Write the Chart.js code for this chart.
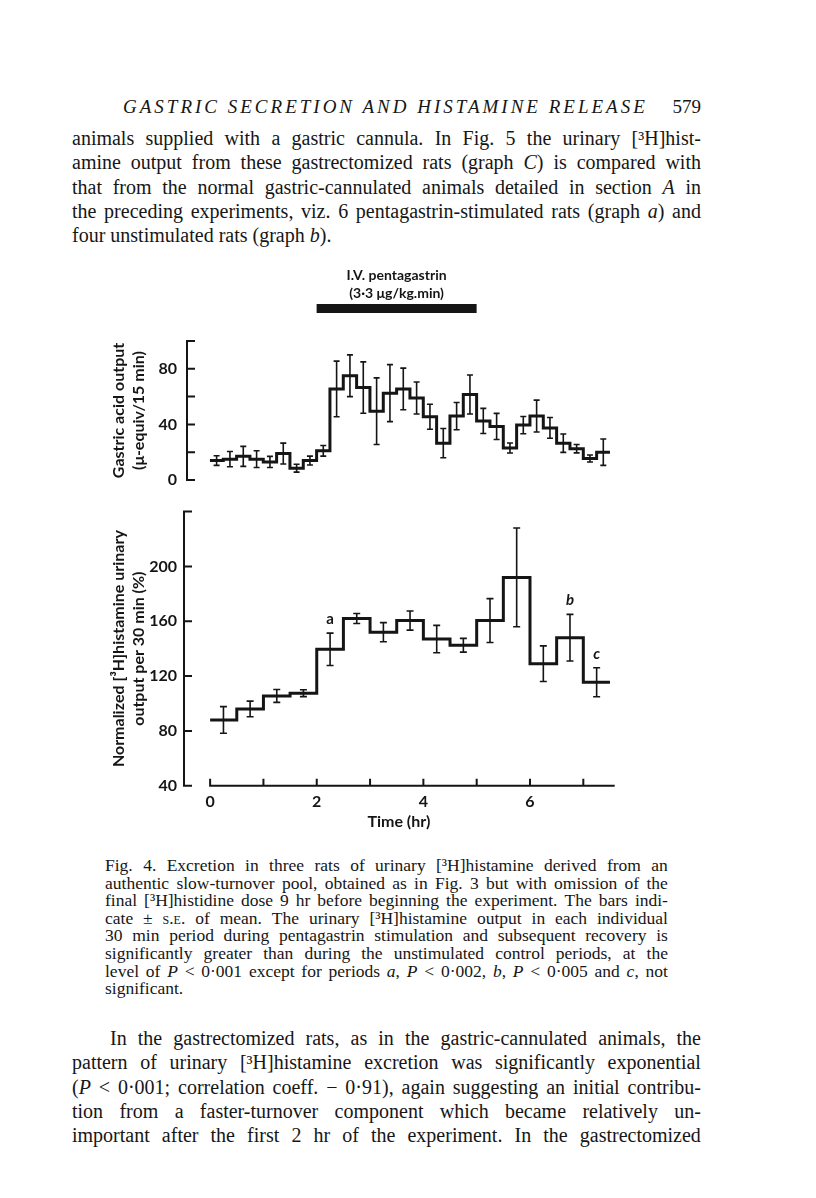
<!DOCTYPE html>
<html lang="en">
  <head>
    <meta charset="UTF-8" />
    <title>Gastric secretion and histamine release - Fig. 4</title>
    <script src="https://cdn.jsdelivr.net/npm/chart.js@4.4.1/dist/chart.umd.min.js"></script>
    <style>
      body {
        margin: 0;
        width: 816px;
        height: 1198px;
        position: relative;
        overflow: hidden;
        background: #fff;
        color: #161616;
        font-family: "Liberation Serif", "Times New Roman", serif;
      }
      .block { position: absolute; }
      .ln { display: flex; justify-content: space-between; white-space: nowrap; }
      .ln.plain { display: block; }
      b { font-weight: normal; font-variant: small-caps; }
      #head { left: 123px; width: 578px; top: 95px; font-size: 19px; line-height: 24px; }
      #head .title { font-style: italic; letter-spacing: 3px; }
      #intro { left: 72px; width: 629px; top: 126px; font-size: 20px; line-height: 24.3px; }
      #caption { left: 105px; width: 563px; top: 857px; font-size: 17.5px; line-height: 17.6px; }
      #outro { left: 72px; width: 629px; top: 1026px; font-size: 20px; line-height: 24.3px; }
      #outro .indent { margin-left: 38px; }
      canvas { position: absolute; left: 100px; }
      #acidChart { top: 255px; }
      #histChart { top: 495px; }
    </style>
  </head>
  <body>
    <div class="block" id="head">
      <div class="ln"><span class="title">GASTRIC SECRETION AND HISTAMINE RELEASE</span><span>579</span></div>
    </div>

    <div class="block" id="intro">
      <div class="ln j">animals supplied with a gastric cannula. In Fig. 5 the urinary [³H]hist-</div>
      <div class="ln j">amine output from these gastrectomized rats (graph <i>C</i>) is compared with</div>
      <div class="ln j">that from the normal gastric-cannulated animals detailed in section <i>A</i> in</div>
      <div class="ln j">the preceding experiments, viz. 6 pentagastrin-stimulated rats (graph <i>a</i>) and</div>
      <div class="ln plain">four unstimulated rats (graph <i>b</i>).</div>
    </div>

    <canvas id="acidChart" width="530" height="245"></canvas>
    <canvas id="histChart" width="530" height="345"></canvas>

    <div class="block" id="caption">
      <div class="ln j">Fig. 4. Excretion in three rats of urinary [³H]histamine derived from an</div>
      <div class="ln j">authentic slow-turnover pool, obtained as in Fig. 3 but with omission of the</div>
      <div class="ln j">final [³H]histidine dose 9 hr before beginning the experiment. The bars indi-</div>
      <div class="ln j">cate ± <b>s.e.</b> of mean. The urinary [³H]histamine output in each individual</div>
      <div class="ln j">30 min period during pentagastrin stimulation and subsequent recovery is</div>
      <div class="ln j">significantly greater than during the unstimulated control periods, at the</div>
      <div class="ln j">level of <i>P</i> &lt; 0·001 except for periods <i>a</i>, <i>P</i> &lt; 0·002, <i>b</i>, <i>P</i> &lt; 0·005 and <i>c</i>, not</div>
      <div class="ln plain">significant.</div>
    </div>

    <div class="block" id="outro">
      <div class="ln j indent">In the gastrectomized rats, as in the gastric-cannulated animals, the</div>
      <div class="ln j">pattern of urinary [³H]histamine excretion was significantly exponential</div>
      <div class="ln j">(<i>P</i> &lt; 0·001; correlation coeff. − 0·91), again suggesting an initial contribu-</div>
      <div class="ln j">tion from a faster-turnover component which became relatively un-</div>
      <div class="ln j">important after the first 2 hr of the experiment. In the gastrectomized</div>
    </div>

    <script>
      // justified lines: one span per word, spread across the line
      document.querySelectorAll(".ln.j").forEach(function (el) {
        const words = el.innerHTML.trim().split(/\s+/);
        el.innerHTML = words.map((w) => "<span>" + w + "</span>").join("");
      });

      // gastric acid output, 15 min periods (start of period, hr)
      const acidStartHr = [
        0, 0.25, 0.5, 0.75, 1, 1.25, 1.5, 1.75, 2, 2.25, 2.5, 2.75, 3, 3.25, 3.5,
        3.75, 4, 4.25, 4.5, 4.75, 5, 5.25, 5.5, 5.75, 6, 6.25, 6.5, 6.75, 7, 7.25,
      ];
      const acidOutput = [
        14, 15, 17, 15, 13, 19, 8.5, 14, 21, 65.5, 75, 66.5, 49.5, 62.5, 65.5,
        59, 45.5, 26.5, 46, 61.5, 42.5, 38.5, 23, 39.5, 46, 37.5, 26.5, 22.5, 15.5, 20,
      ];
      const acidSE = [
        3.5, 5.5, 7.2, 6, 4, 7.5, 2.8, 3.2, 3.8, 20, 15, 18.5, 24, 20.5, 15,
        11.5, 9, 10.5, 9.8, 14, 9, 9.4, 3.6, 6.2, 11.5, 7.5, 6.6, 3, 2.5, 9.5,
      ];

      // normalized urinary [3H]histamine, 30 min periods
      const histStartHr = [0, 0.5, 1, 1.5, 2, 2.5, 3, 3.5, 4, 4.5, 5, 5.5, 6, 6.5, 7];
      const histOutput = [
        88, 96, 105.5, 107.5, 139.5, 162, 152, 160.5, 147, 142.5, 160.5, 192, 129, 148, 115.5,
      ];
      const histSE = [9.7, 5.7, 4.7, 2.5, 11.8, 3.6, 7, 7, 10, 5, 16, 36, 13, 17, 10.6];

      const acidTickLabels = [0, 40, 80];
      const histTickLabels = [40, 80, 120, 160, 200];
      const timeTickLabels = [0, 2, 4, 6];

      const infusionHr = [2, 5];
      const infusionText = ["I.V. pentagastrin", "(3·3 μg/kg.min)"];

      const periodLabels = ["a", "b", "c"];
      const periodBins = [4, 13, 14];

      const ink = "#151515";
      const sans = "Lato, 'Open Sans', sans-serif";

      function stepPoints(starts, values) {
        const w = starts[1] - starts[0];
        const pts = starts.map((x, i) => ({ x: x, y: values[i] }));
        pts.push({ x: starts[starts.length - 1] + w, y: values[values.length - 1] });
        return pts;
      }

      // left axis with inward ticks, and the time axis when asked for
      const frame = {
        id: "frame",
        afterDraw(chart, args, opts) {
          const { ctx, chartArea: a, scales } = chart;
          const x = scales.x, y = scales.y;
          ctx.save();
          ctx.strokeStyle = ink;
          ctx.lineWidth = 2;
          ctx.lineCap = "square";
          ctx.beginPath();
          ctx.moveTo(a.left, y.getPixelForValue(y.min));
          ctx.lineTo(a.left, y.getPixelForValue(y.max));
          y.ticks.forEach((t) => {
            const py = y.getPixelForValue(t.value);
            ctx.moveTo(a.left, py);
            ctx.lineTo(a.left + 7, py);
          });
          if (opts.timeAxis) {
            ctx.moveTo(x.getPixelForValue(0), a.bottom);
            ctx.lineTo(a.right, a.bottom);
            x.ticks.forEach((t) => {
              const px = x.getPixelForValue(t.value);
              ctx.moveTo(px, a.bottom);
              ctx.lineTo(px, a.bottom - 6);
            });
          }
          ctx.stroke();
          ctx.restore();
        },
      };

      // +/- s.e. bars at the middle of each period
      const errorBars = {
        id: "errorBars",
        afterDatasetsDraw(chart, args, opts) {
          const { ctx, scales: { x, y } } = chart;
          const w = opts.starts[1] - opts.starts[0];
          ctx.save();
          ctx.strokeStyle = ink;
          ctx.lineWidth = 1.6;
          ctx.beginPath();
          opts.starts.forEach((s, i) => {
            const px = x.getPixelForValue(s + w / 2);
            const top = y.getPixelForValue(opts.values[i] + opts.se[i]);
            const bot = y.getPixelForValue(opts.values[i] - opts.se[i]);
            ctx.moveTo(px, top);
            ctx.lineTo(px, bot);
            ctx.moveTo(px - opts.cap, top);
            ctx.lineTo(px + opts.cap, top);
            ctx.moveTo(px - opts.cap, bot);
            ctx.lineTo(px + opts.cap, bot);
          });
          ctx.stroke();
          if (opts.labels) {
            ctx.fillStyle = ink;
            ctx.textAlign = "center";
            ctx.textBaseline = "middle";
            opts.labels.forEach((lab, k) => {
              const i = opts.labelBins[k];
              const px = x.getPixelForValue(opts.starts[i] + w / 2);
              const py = y.getPixelForValue(opts.values[i] + opts.se[i]) - 14;
              ctx.font = (k === 0 ? "" : "italic ") + "bold 15px " + sans;
              ctx.fillText(lab, px, py);
            });
          }
          ctx.restore();
        },
      };

      // infusion period bar above the acid chart
      const infusion = {
        id: "infusion",
        afterDraw(chart) {
          const { ctx, chartArea: a, scales: { x } } = chart;
          const x0 = x.getPixelForValue(infusionHr[0]);
          const x1 = x.getPixelForValue(infusionHr[1]);
          ctx.save();
          ctx.fillStyle = ink;
          ctx.fillRect(x0, a.top - 37, x1 - x0, 9);
          ctx.font = "bold 14px " + sans;
          ctx.textAlign = "center";
          ctx.textBaseline = "middle";
          ctx.fillText(infusionText[0], (x0 + x1) / 2, a.top - 66);
          ctx.fillText(infusionText[1], (x0 + x1) / 2, a.top - 48);
          ctx.restore();
        },
      };

      const tickFont = { family: sans, size: 16, weight: "bold" };
      const titleFont = { family: sans, size: 16, weight: "bold", lineHeight: 1.25 };
      const noGrid = { display: false, drawTicks: false };

      new Chart(document.getElementById("acidChart"), {
        type: "line",
        data: {
          datasets: [
            {
              data: stepPoints(acidStartHr, acidOutput),
              stepped: "before",
              borderColor: ink,
              borderWidth: 3,
              pointRadius: 0,
              fill: false,
            },
          ],
        },
        options: {
          responsive: false,
          animation: false,
          layout: { padding: { left: 0, right: 16.3, top: 86, bottom: 20 } },
          plugins: {
            legend: { display: false },
            tooltip: { enabled: false },
            errorBars: { starts: acidStartHr, values: acidOutput, se: acidSE, cap: 3 },
          },
          scales: {
            x: { type: "linear", min: -0.43, max: 7.57, display: false },
            y: {
              min: 0,
              max: 100,
              grid: noGrid,
              border: { display: false },
              ticks: {
                stepSize: 20,
                padding: 10,
                color: ink,
                font: tickFont,
                callback: (v) => (acidTickLabels.includes(v) ? v : ""),
              },
              title: {
                display: true,
                text: ["Gastric acid output", "(μ-equiv/15 min)"],
                color: ink,
                font: titleFont,
                padding: { top: 9, bottom: 0 },
              },
              afterFit: (s) => { s.width = 87; },
            },
          },
        },
        plugins: [frame, errorBars, infusion],
      });

      new Chart(document.getElementById("histChart"), {
        type: "line",
        data: {
          datasets: [
            {
              data: stepPoints(histStartHr, histOutput),
              stepped: "before",
              borderColor: ink,
              borderWidth: 3,
              pointRadius: 0,
              fill: false,
            },
          ],
        },
        options: {
          responsive: false,
          animation: false,
          layout: { padding: { left: 0, right: 16.3, top: 14.3, bottom: 8.3 } },
          plugins: {
            legend: { display: false },
            tooltip: { enabled: false },
            frame: { timeAxis: true },
            errorBars: {
              starts: histStartHr,
              values: histOutput,
              se: histSE,
              cap: 3.5,
              labels: periodLabels,
              labelBins: periodBins,
            },
          },
          scales: {
            x: {
              type: "linear",
              min: -0.49,
              max: 7.57,
              grid: noGrid,
              border: { display: false },
              ticks: {
                stepSize: 1,
                includeBounds: false,
                padding: 7,
                color: ink,
                font: tickFont,
                maxRotation: 0,
                autoSkip: false,
                callback: (v) => (timeTickLabels.includes(v) ? v : ""),
              },
              title: {
                display: true,
                text: "Time (hr)",
                color: ink,
                font: { family: sans, size: 16, weight: "bold" },
                padding: 0,
              },
              afterFit: (s) => { s.height = 46; },
            },
            y: {
              min: 40,
              max: 240,
              grid: noGrid,
              border: { display: false },
              ticks: {
                stepSize: 40,
                padding: 7,
                color: ink,
                font: tickFont,
                callback: (v) => (histTickLabels.includes(v) ? v : ""),
              },
              title: {
                display: true,
                text: ["Normalized [³H]histamine urinary", "output per 30 min (%)"],
                color: ink,
                font: titleFont,
                padding: { top: 9, bottom: 0 },
              },
              afterFit: (s) => { s.width = 84; },
            },
          },
        },
        plugins: [frame, errorBars],
      });
    </script>
  </body>
</html>
